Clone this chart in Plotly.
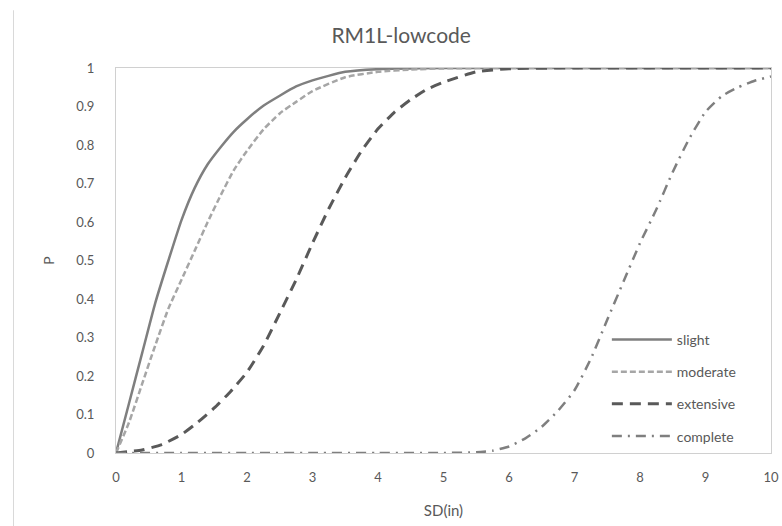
import plotly.graph_objects as go

# ---- data ----
slight_x = [0, 0.2, 0.4, 0.6, 0.8, 1.0, 1.2, 1.4, 1.6, 1.8, 2.0, 2.25, 2.5, 2.75, 3.0, 3.5, 4.0, 5, 6, 7, 8, 9, 10]
slight_y = [0, 0.13, 0.26, 0.39, 0.50, 0.605, 0.688, 0.75, 0.795, 0.835, 0.867, 0.902, 0.928, 0.952, 0.968, 0.99, 0.997, 1, 1, 1, 1, 1, 1]

moderate_x = [0, 0.2, 0.4, 0.6, 0.8, 1.0, 1.2, 1.4, 1.6, 1.8, 2.0, 2.25, 2.5, 2.75, 3.0, 3.5, 4.0, 4.5, 5, 6, 7, 8, 9, 10]
moderate_y = [0, 0.08, 0.18, 0.28, 0.375, 0.45, 0.525, 0.60, 0.67, 0.735, 0.785, 0.84, 0.882, 0.912, 0.94, 0.976, 0.99, 0.996, 0.999, 1, 1, 1, 1, 1]

extensive_x = [0, 0.4, 0.7, 1.0, 1.25, 1.5, 1.75, 2.0, 2.25, 2.5, 2.75, 3.0, 3.25, 3.5, 3.75, 4.0, 4.25, 4.5, 4.75, 5.0, 5.5, 6.0, 7, 8, 9, 10]
extensive_y = [0, 0.008, 0.022, 0.048, 0.08, 0.117, 0.16, 0.21, 0.278, 0.363, 0.45, 0.545, 0.635, 0.715, 0.785, 0.842, 0.885, 0.918, 0.945, 0.963, 0.99, 0.998, 1, 1, 1, 1]

complete_x = [0, 1, 2, 3, 4, 5.0, 5.5, 5.75, 6.0, 6.25, 6.5, 6.75, 7.0, 7.25, 7.5, 7.75, 8.0, 8.25, 8.5, 8.75, 9.0, 9.25, 9.5, 9.75, 10]
complete_y = [0, 0, 0, 0, 0, 0.0, 0.002, 0.006, 0.017, 0.038, 0.068, 0.11, 0.163, 0.245, 0.346, 0.446, 0.545, 0.633, 0.73, 0.816, 0.886, 0.927, 0.95, 0.967, 0.978]

series_names = ["slight", "moderate", "extensive", "complete"]
x_ticks = [0, 1, 2, 3, 4, 5, 6, 7, 8, 9, 10]
y_ticks = [0, 0.1, 0.2, 0.3, 0.4, 0.5, 0.6, 0.7, 0.8, 0.9, 1]
y_tick_labels = ["0", "0.1", "0.2", "0.3", "0.4", "0.5", "0.6", "0.7", "0.8", "0.9", "1"]

FONT = "Lato, 'Open Sans', sans-serif"
TXT = "#595959"

styles = [
    dict(color="#7f7f7f", width=2.5, dash="solid"),
    dict(color="#a6a6a6", width=2.5, dash="6px,3px"),
    dict(color="#595959", width=3, dash="11px,7px"),
    dict(color="#7f7f7f", width=2.5, dash="10px,6px,2px,6px"),
]
xs = [slight_x, moderate_x, extensive_x, complete_x]
ys = [slight_y, moderate_y, extensive_y, complete_y]

fig = go.Figure()
for name, x, y, st in zip(series_names, xs, ys, styles):
    fig.add_trace(go.Scatter(x=x, y=y, mode="lines", name=name, legendgroup=name,
                             line=dict(shape="spline", smoothing=0.5, **st)))

fig.update_layout(
    width=782, height=526,
    margin=dict(l=116, r=11, t=68, b=73, autoexpand=False),
    paper_bgcolor="white", plot_bgcolor="white",
    font=dict(family=FONT, color=TXT, size=13),
    title=dict(text="RM1L-lowcode", x=0.513, xref="container", xanchor="center",
               y=0.933, yref="container", yanchor="middle",
               font=dict(size=21, color=TXT, family=FONT)),
    showlegend=True,
    legend=dict(x=0.7494, y=0.3355, xanchor="left", yanchor="top",
                bgcolor="rgba(0,0,0,0)", font=dict(size=14, color=TXT, family=FONT),
                itemwidth=60, tracegroupgap=11),
    xaxis=dict(range=[0, 10], tickvals=x_ticks, showgrid=False, zeroline=False,
               showline=True, mirror=True, linecolor="#d0d0d0", linewidth=1,
               ticks="", ticklabelstandoff=12, automargin=False,
               tickfont=dict(size=13, color=TXT),
               title=dict(text="SD(in)", font=dict(size=15, color=TXT), standoff=21)),
    yaxis=dict(range=[0, 1], tickvals=y_ticks, ticktext=y_tick_labels, showgrid=False,
               zeroline=False, showline=True, mirror=True, linecolor="#d0d0d0", linewidth=1,
               ticks="", ticklabelstandoff=18, automargin=False,
               tickfont=dict(size=13, color=TXT),
               title=dict(text="P", font=dict(size=14, color=TXT), standoff=18)),
    shapes=[dict(type="line", xref="paper", yref="paper", x0=-0.1565, x1=-0.1565,
                 y0=-0.19, y1=1.15, line=dict(color="#d9d9d9", width=1))],
)

fig.write_html("out.html")
